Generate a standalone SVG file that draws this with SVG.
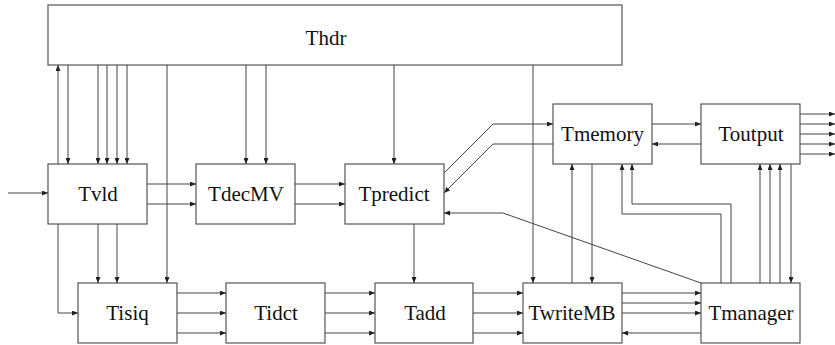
<svg xmlns="http://www.w3.org/2000/svg" width="835" height="345" viewBox="0 0 835 345">
<defs>
<marker id="a" markerUnits="userSpaceOnUse" markerWidth="6" markerHeight="5" refX="6" refY="2.5" orient="auto">
<path d="M0,0 L6,2.5 L0,5 z" fill="#222"/>
</marker>
<style>
.box{fill:#fff;stroke:#555;stroke-width:1.2}
.lbl{font-family:"Liberation Serif","Times New Roman",serif;font-size:21px;fill:#111;text-anchor:middle}
#connectors path{fill:none;stroke:#444;stroke-width:1;marker-end:url(#a)}
#connectors path.n{marker-end:none}
</style>
</defs>
<rect width="835" height="345" fill="#fff"/>
<g id="Thdr"><rect class="box" x="48" y="5" width="574" height="60"/><text class="lbl" x="326" y="45">Thdr</text></g>
<g id="Tvld"><rect class="box" x="48" y="164" width="99" height="60"/><text class="lbl" x="98" y="201">Tvld</text></g>
<g id="TdecMV"><rect class="box" x="196" y="164" width="99" height="60"/><text class="lbl" x="246" y="201">TdecMV</text></g>
<g id="Tpredict"><rect class="box" x="345" y="164" width="99" height="60"/><text class="lbl" x="394" y="201">Tpredict</text></g>
<g id="Tmemory"><rect class="box" x="553" y="104" width="99" height="60"/><text class="lbl" x="602.5" y="141">Tmemory</text></g>
<g id="Toutput"><rect class="box" x="701" y="104" width="99" height="60"/><text class="lbl" x="751" y="141">Toutput</text></g>
<g id="Tisiq"><rect class="box" x="78" y="283" width="99" height="60"/><text class="lbl" x="127.5" y="320">Tisiq</text></g>
<g id="Tidct"><rect class="box" x="226" y="283" width="99" height="60"/><text class="lbl" x="276" y="320">Tidct</text></g>
<g id="Tadd"><rect class="box" x="375" y="283" width="98" height="60"/><text class="lbl" x="425" y="320">Tadd</text></g>
<g id="TwriteMB"><rect class="box" x="523" y="283" width="99" height="60"/><text class="lbl" x="572" y="320">TwriteMB</text></g>
<g id="Tmanager"><rect class="box" x="701" y="283" width="99" height="60"/><text class="lbl" x="751" y="320">Tmanager</text></g>
<g id="connectors">
<path d="M58,164 V65"/>
<path d="M68,65 V164"/>
<path d="M98,65 V164"/>
<path d="M107,65 V164"/>
<path d="M117,65 V164"/>
<path d="M127,65 V164"/>
<path d="M167,65 V283"/>
<path d="M246,65 V164"/>
<path d="M266,65 V164"/>
<path d="M394,65 V164"/>
<path d="M533,65 V283"/>
<path d="M8,193 H48"/>
<path d="M147,184 H196"/>
<path d="M147,204 H196"/>
<path d="M295,184 H345"/>
<path d="M295,204 H345"/>
<path d="M98,224 V283"/>
<path d="M117,224 V283"/>
<path d="M58,224 V313 H78"/>
<path d="M177,293 H226"/>
<path d="M177,313 H226"/>
<path d="M177,333 H226"/>
<path d="M325,293 H375"/>
<path d="M325,313 H375"/>
<path d="M325,333 H375"/>
<path d="M473,293 H523"/>
<path d="M473,313 H523"/>
<path d="M473,333 H523"/>
<path d="M622,293 H701"/>
<path d="M622,303 H701"/>
<path d="M622,313 H701"/>
<path d="M701,333 H622"/>
<path d="M414,224 V283"/>
<path d="M572,283 V164"/>
<path d="M592,164 V283"/>
<path d="M721,283 V214 H622 V164"/>
<path d="M731,283 V204 H632 V164"/>
<path d="M701,283 L503,213 H444"/>
<path d="M760,283 V164"/>
<path d="M770,283 V164"/>
<path d="M780,283 V164"/>
<path d="M791,164 V283"/>
<path d="M800,114 H835"/>
<path d="M800,124 H835"/>
<path d="M800,134 H835"/>
<path d="M800,144 H835"/>
<path d="M800,154 H835"/>
<path d="M652,124 H701"/>
<path d="M701,144 H652"/>
<path d="M444,173 L493,124 H553"/>
<path d="M553,144 H493 L444,193"/>
</g>
</svg>
